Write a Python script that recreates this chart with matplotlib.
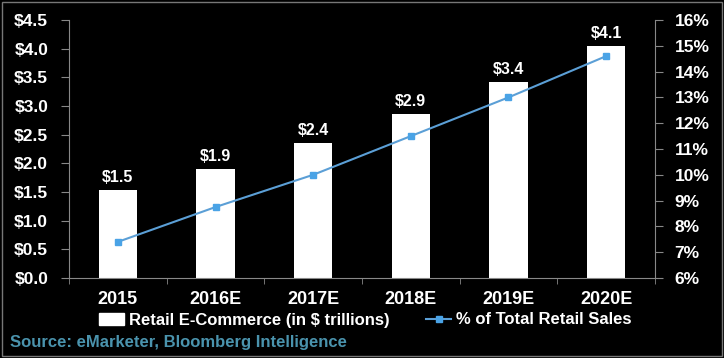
import matplotlib
matplotlib.use("Agg")
import matplotlib.pyplot as plt
from matplotlib.lines import Line2D
from matplotlib.patches import Patch, Rectangle

categories = ["2015", "2016E", "2017E", "2018E", "2019E", "2020E"]
ecommerce = [1.54, 1.90, 2.35, 2.86, 3.42, 4.05]
bar_labels = ["$1.5", "$1.9", "$2.4", "$2.9", "$3.4", "$4.1"]
pct_total = [7.4, 8.75, 10.0, 11.5, 13.0, 14.6]
left_ticks = [0.0, 0.5, 1.0, 1.5, 2.0, 2.5, 3.0, 3.5, 4.0, 4.5]
right_ticks = [6, 7, 8, 9, 10, 11, 12, 13, 14, 15, 16]

plt.rcParams['font.family'] = ['Liberation Sans', 'DejaVu Sans']

fig = plt.figure(figsize=(7.24, 3.58), dpi=100, facecolor='black')
ax = fig.add_axes([69/724, 1-278/358, (655-69)/724, (278-20)/358])
ax.set_facecolor('black')
x = list(range(len(categories)))
ax.bar(x, ecommerce, width=0.39, color='white', zorder=2)
for xi, v, lab in zip(x, ecommerce, bar_labels):
    ax.text(xi, v + 0.09, lab, ha='center', va='bottom', color='white',
            fontsize=11.5, fontweight='bold')
ax.set_xlim(-0.5, 5.5)
ax.set_ylim(0, 4.5)
ax.set_yticks(left_ticks)
ax.set_yticklabels([f"${t:.1f}" for t in left_ticks])
ax.set_xticks(x)
ax.set_xticklabels(categories)
ax.set_xticks([i + 0.5 for i in range(-1, 6)], minor=True)
ax.tick_params(axis='x', which='major', length=0, pad=9, colors='white', labelsize=13)
ax.tick_params(axis='x', which='minor', length=4, color='#888888', direction='out')
ax.tick_params(axis='y', length=6, color='#888888', colors='white', labelsize=12.5, pad=9)
for lab in ax.get_xticklabels() + ax.get_yticklabels():
    lab.set_fontweight('bold')
for s in ['top', 'right']:
    ax.spines[s].set_visible(False)
for s in ['left', 'bottom']:
    ax.spines[s].set_color('#888888')

ax2 = ax.twinx()
ax2.plot(x, pct_total, color='#5b9fd6', lw=1.5, marker='s', ms=5,
         mfc='#4aa3e6', mec='#4aa3e6', zorder=3)
ax2.set_ylim(6, 16)
ax2.set_yticks(right_ticks)
ax2.set_yticklabels([f"{t}%" for t in right_ticks])
ax2.tick_params(axis='y', length=6, color='#888888', colors='white', labelsize=12.5, pad=8)
for lab in ax2.get_yticklabels():
    lab.set_fontweight('bold')
for s in ['top', 'left', 'bottom']:
    ax2.spines[s].set_visible(False)
ax2.spines['right'].set_color('#888888')

handles = [Patch(facecolor='white', edgecolor='white'),
           Line2D([0], [0], color='#5b9fd6', lw=1.5, marker='s', ms=4,
                  mfc='#4aa3e6', mec='#4aa3e6')]
leg = fig.legend(handles, ["Retail E-Commerce (in $ trillions)", "% of Total Retail Sales"],
                 loc='center left', bbox_to_anchor=(84/724, 1-320/358), ncol=2, frameon=False,
                 prop={'weight': 'bold', 'size': 12}, handlelength=1.5,
                 handletextpad=0.3, columnspacing=2.2)
for t in leg.get_texts():
    t.set_color('white')

fig.text(10/724, 1-342/358, "Source: eMarketer, Bloomberg Intelligence", color='#4a93ad',
         fontsize=12, fontweight='bold', va='center', ha='left')

fig.patches.append(Rectangle((2/724, 2/358), 720/724, 354/358, transform=fig.transFigure,
                             fill=False, edgecolor='#777777', lw=1))

fig.savefig("out.png", dpi=100, facecolor='black')
